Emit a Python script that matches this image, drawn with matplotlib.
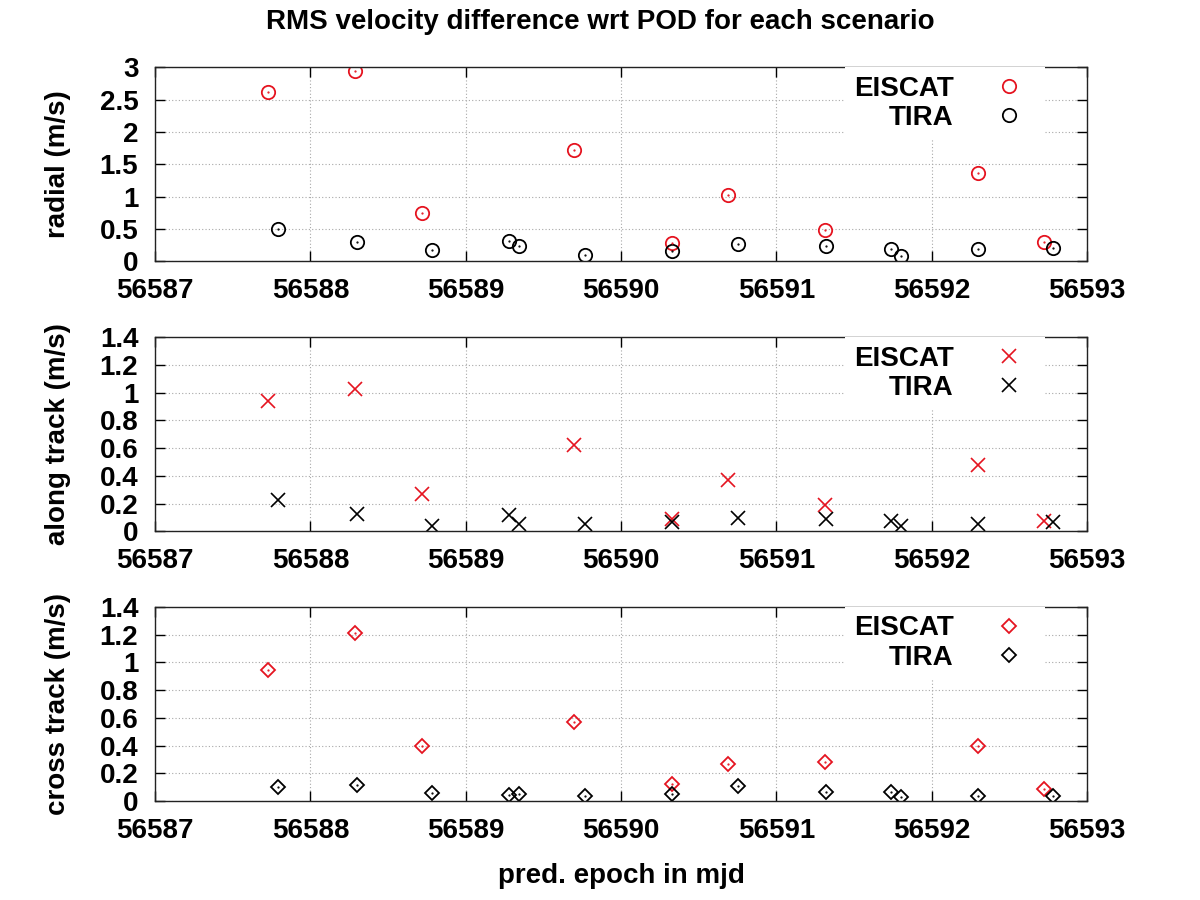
import numpy as np
import matplotlib
matplotlib.use("Agg")
import matplotlib.pyplot as plt
from matplotlib.ticker import FuncFormatter, MultipleLocator

plt.rcParams["font.family"] = ["Liberation Sans", "DejaVu Sans"]
plt.rcParams["font.weight"] = "bold"

# prediction epochs (mjd)
eiscat_mjd = [56587.73, 56588.29, 56588.72, 56589.70, 56590.33,
              56590.69, 56591.31, 56592.30, 56592.72]
tira_mjd = [56587.79, 56588.30, 56588.78, 56589.28, 56589.34, 56589.77,
            56590.33, 56590.75, 56591.32, 56591.74, 56591.80, 56592.30,
            56592.78]

# RMS velocity difference wrt POD (m/s)
eiscat_radial = [2.62, 2.95, 0.75, 1.72, 0.29, 1.02, 0.49, 1.365, 0.30]
tira_radial = [0.50, 0.30, 0.17, 0.31, 0.23, 0.10, 0.155, 0.27, 0.24,
               0.185, 0.09, 0.195, 0.20]

eiscat_along = [0.94, 1.025, 0.27, 0.62, 0.087, 0.37, 0.19, 0.48, 0.072]
tira_along = [0.226, 0.125, 0.036, 0.118, 0.055, 0.053, 0.067, 0.094,
              0.092, 0.074, 0.04, 0.053, 0.065]

eiscat_cross = [0.946, 1.21, 0.40, 0.57, 0.125, 0.27, 0.28, 0.40, 0.09]
tira_cross = [0.10, 0.113, 0.058, 0.043, 0.048, 0.036, 0.053, 0.106,
              0.063, 0.063, 0.029, 0.034, 0.036]

panels = [
    ("radial (m/s)", eiscat_radial, tira_radial, "o", 3.0, 0.5),
    ("along track (m/s)", eiscat_along, tira_along, "x", 1.4, 0.2),
    ("cross track (m/s)", eiscat_cross, tira_cross, "D", 1.4, 0.2),
]

RED = "#e51420"
FS = 20

fig = plt.figure(figsize=(12, 9), dpi=100)
left, width, height = 0.1292, 0.7767, 0.2156
bottoms = [0.7096, 0.4096, 0.11]

fmt = FuncFormatter(lambda v, p: "%g" % v)

for (ylabel, ye, yt, mk, ymax, ystep), b in zip(panels, bottoms):
    ax = fig.add_axes([left, b, width, height])
    if mk == "o":
        ms, mew = 9.6, 1.3
    elif mk == "x":
        ms, mew = 10.0, 1.2
    else:
        ms, mew = 6.8, 1.3
    kw = dict(linestyle="none", marker=mk, markersize=ms, markeredgewidth=mew,
              markerfacecolor="none")
    ax.plot(eiscat_mjd, ye, color=RED, markeredgecolor=RED, label="EISCAT", **kw)
    ax.plot(tira_mjd, yt, color="black", markeredgecolor="black", label="TIRA", **kw)
    if mk != "x":
        ax.plot(eiscat_mjd, ye, linestyle="none", marker=".", markersize=1.2, color=RED)
        ax.plot(tira_mjd, yt, linestyle="none", marker=".", markersize=1.2, color="black")

    ax.set_xlim(56587, 56593)
    ax.set_ylim(0, ymax)
    ax.xaxis.set_major_locator(MultipleLocator(1))
    ax.yaxis.set_major_locator(MultipleLocator(ystep))
    ax.xaxis.set_major_formatter(fmt)
    ax.yaxis.set_major_formatter(fmt)
    ax.tick_params(direction="in", length=7, width=1.0, top=True, right=True,
                   labelsize=FS)
    ax.tick_params(axis="x", pad=12)
    ax.tick_params(axis="y", pad=12)
    for lab in ax.get_xticklabels() + ax.get_yticklabels():
        lab.set_fontweight("bold")
    ax.grid(True, color="#a8a8a8", linestyle=(0, (1, 2)), linewidth=0.8)
    for s in ax.spines.values():
        s.set_linewidth(1.0)
        s.set_color("#222222")
    ax.set_ylabel(ylabel, fontsize=FS, fontweight="bold")
    ax.yaxis.set_label_coords(-0.090, 0.5)

    leg = ax.legend(loc="upper right", bbox_to_anchor=(0.955, 1.0),
                    markerfirst=False, frameon=True, fancybox=False,
                    fontsize=FS, labelspacing=0.12, handletextpad=1.0,
                    handlelength=2.0, borderpad=0.3, borderaxespad=0.0)
    leg.get_frame().set_edgecolor("none")
    leg.get_frame().set_facecolor("white")
    leg.get_frame().set_alpha(1.0)
    for t in leg.get_texts():
        t.set_fontweight("bold")

    if b == bottoms[-1]:
        ax.set_xlabel("pred. epoch in mjd", fontsize=FS, fontweight="bold", labelpad=14)

fig.suptitle("RMS velocity difference wrt POD for each scenario",
             fontsize=FS, fontweight="bold", y=0.976, va="center")

fig.savefig("out.png", dpi=100)
